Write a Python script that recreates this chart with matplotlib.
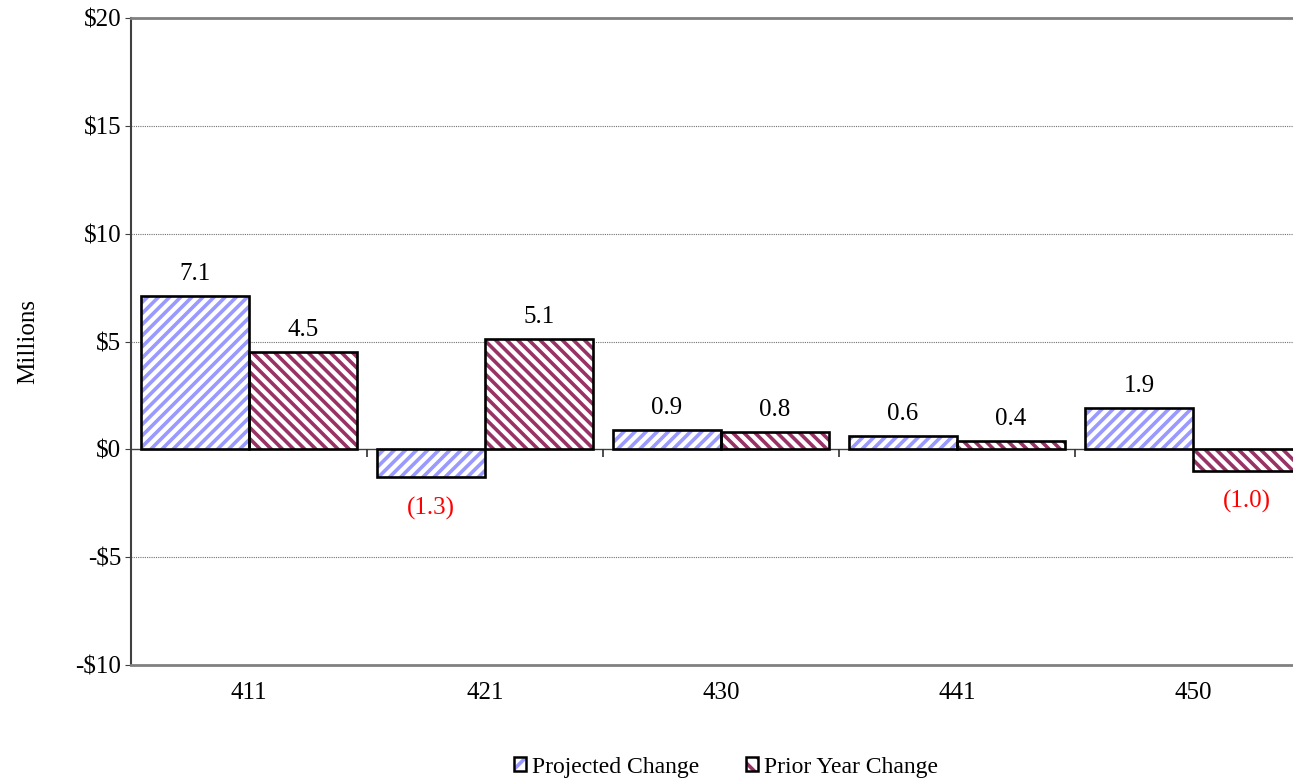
import numpy as np
import matplotlib.pyplot as plt
from matplotlib.patches import Patch

plt.rcParams['font.family'] = ['Liberation Serif', 'DejaVu Serif']
plt.rcParams['hatch.linewidth'] = 2.6

# data
categories = ["411", "421", "430", "441", "450"]
projected = [7.1, -1.3, 0.9, 0.6, 1.9]
prior_year = [4.5, 5.1, 0.8, 0.4, -1.0]
series_names = ["Projected Change", "Prior Year Change"]
yticks = [-10, -5, 0, 5, 10, 15, 20]

blue = "#9999FF"
maroon = "#993366"

fig = plt.figure(figsize=(12.93, 7.81), dpi=100)
# plot area runs past the right edge of the picture, as in the original
ax = fig.add_axes([131/1293, 116/781, 1180/1293, 647/781])

x = np.arange(len(categories))
w = 0.458

for vals, off, col, hatch in [(projected, -w/2, blue, "///"), (prior_year, w/2, maroon, "\\\\\\")]:
    ax.bar(x + off, vals, w, facecolor="white", edgecolor=col, hatch=hatch, linewidth=0, zorder=3)
    ax.bar(x + off, vals, w, facecolor="none", edgecolor="black", linewidth=1.9, zorder=4)
    for xi, v in zip(x + off, vals):
        if v >= 0:
            ax.annotate(f"{v:.1f}", (xi, v), xytext=(0, 8), textcoords="offset points",
                        ha="center", va="bottom", fontsize=18, color="black")
        else:
            ax.annotate(f"({abs(v):.1f})", (xi, v), xytext=(0, -14), textcoords="offset points",
                        ha="center", va="top", fontsize=18, color="red")

ax.set_xlim(-0.5, len(categories) - 0.5)
ax.set_ylim(-10, 20)
ax.set_yticks(yticks)
ax.set_yticklabels([f"${v}" if v >= 0 else f"-${-v}" for v in yticks], fontsize=18)
ax.set_xticks(x)
ax.set_xticklabels(categories, fontsize=18)
ax.tick_params(axis="x", length=0, pad=12)
ax.tick_params(axis="y", length=4, color="#404040", pad=3)

# gridlines
for v in yticks[1:-1]:
    if v != 0:
        ax.axhline(v, color="#707070", linestyle=(0, (1, 1)), linewidth=0.8, zorder=1)

# category axis crossing at zero, with tick marks between groups
ax.axhline(0, color="#404040", linewidth=1.0, zorder=2)
ax.vlines(x[:-1] + 0.5, -0.35, 0, color="#303030", linewidth=1.2, zorder=2)

for s in ["top", "bottom"]:
    ax.spines[s].set_color("#808080")
    ax.spines[s].set_linewidth(2)
ax.spines["left"].set_color("#404040")
ax.spines["left"].set_linewidth(1.5)
ax.spines["right"].set_visible(False)

ax.set_ylabel("Millions", fontsize=18, labelpad=26)

handles = [
    (Patch(facecolor="white", edgecolor=blue, hatch="//", linewidth=0), Patch(facecolor="none", edgecolor="black", linewidth=1.8)),
    (Patch(facecolor="white", edgecolor=maroon, hatch="\\\\", linewidth=0), Patch(facecolor="none", edgecolor="black", linewidth=1.8)),
]
fig.legend(handles, series_names, loc="center", bbox_to_anchor=(726/1293, 1 - 767/781), ncol=2,
           frameon=False, fontsize=17, handlelength=0.5, handleheight=0.5, handletextpad=0.25,
           columnspacing=2.0)

fig.savefig("out.png", dpi=100)
